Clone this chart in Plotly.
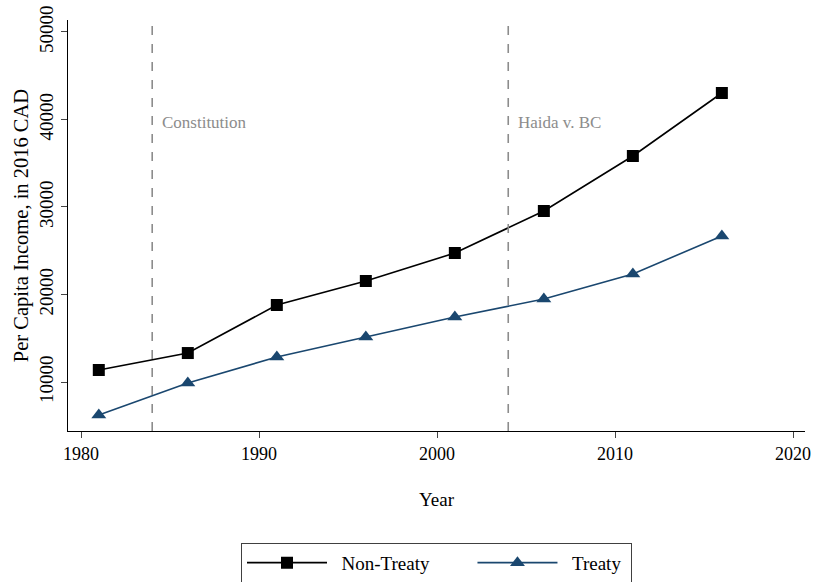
import plotly.graph_objects as go

years = [1981, 1986, 1991, 1996, 2001, 2006, 2011, 2016]
non_treaty = [11370, 13310, 18800, 21540, 24740, 29540, 35830, 43030]
treaty = [6230, 9890, 12860, 15140, 17430, 19490, 22340, 26690]
events = [1984, 2004]
event_labels = ["Constitution", "Haida v. BC"]
x_ticks = [1980, 1990, 2000, 2010, 2020]
y_ticks = [10000, 20000, 30000, 40000, 50000]
y_tick_labels = ["10000", "20000", "30000", "40000", "50000"]
series_names = ["Non-Treaty", "Treaty"]

NB = "\u00a0"
FONT = "Liberation Serif"
fig = go.Figure()
fig.add_trace(go.Scatter(x=years, y=non_treaty, name=NB * 2 + series_names[0] + NB * 8,
                         mode="lines+markers",
                         line=dict(color="black", width=1.6),
                         marker=dict(symbol="square", size=12, color="black")))
fig.add_trace(go.Scatter(x=years, y=treaty, name=NB * 2 + series_names[1] + NB,
                         mode="lines+markers",
                         line=dict(color="#1a476f", width=1.6),
                         marker=dict(symbol="triangle-up", size=13, color="#1a476f")))

for ev, lab in zip(events, event_labels):
    fig.add_vline(x=ev, line=dict(color="#8c8c8c", width=1.6, dash="dash"))
    fig.add_annotation(x=ev, y=39700, text=lab, showarrow=False, xanchor="left",
                       xshift=8, font=dict(family=FONT, size=17, color="#8c8c8c"))

fig.update_layout(
    width=818, height=582,
    margin=dict(l=68, r=13, t=20, b=151, autoexpand=False),
    paper_bgcolor="white", plot_bgcolor="white",
    font=dict(family=FONT, size=18, color="black"),
    showlegend=True,
    legend=dict(orientation="h", x=0.5, xanchor="center", y=-0.272, yanchor="top",
                bordercolor="#404040", borderwidth=1, font=dict(family=FONT, size=19),
                itemwidth=80),
)
fig.update_xaxes(range=[1979.27, 2020.67], tickvals=x_ticks, showgrid=False, zeroline=False,
                 showline=True, linecolor="black", linewidth=1, ticks="outside", ticklen=6,
                 tickfont=dict(size=18), automargin=False, ticklabeloverflow="allow",
                 title=dict(text="Year", font=dict(size=19), standoff=30))
fig.update_yaxes(range=[4400, 51370], tickvals=y_ticks, ticktext=y_tick_labels,
                 showgrid=False, zeroline=False, automargin=False, ticklabeloverflow="allow",
                 showline=True, linecolor="black", linewidth=1, ticks="outside", ticklen=6,
                 tickangle=-90, tickfont=dict(size=19),
                 title=dict(text="Per Capita Income, in 2016 CAD", font=dict(size=20.5), standoff=2))

fig.write_html("out.html", config={"displayModeBar": False},
               post_script="document.body.style.margin='0';")
